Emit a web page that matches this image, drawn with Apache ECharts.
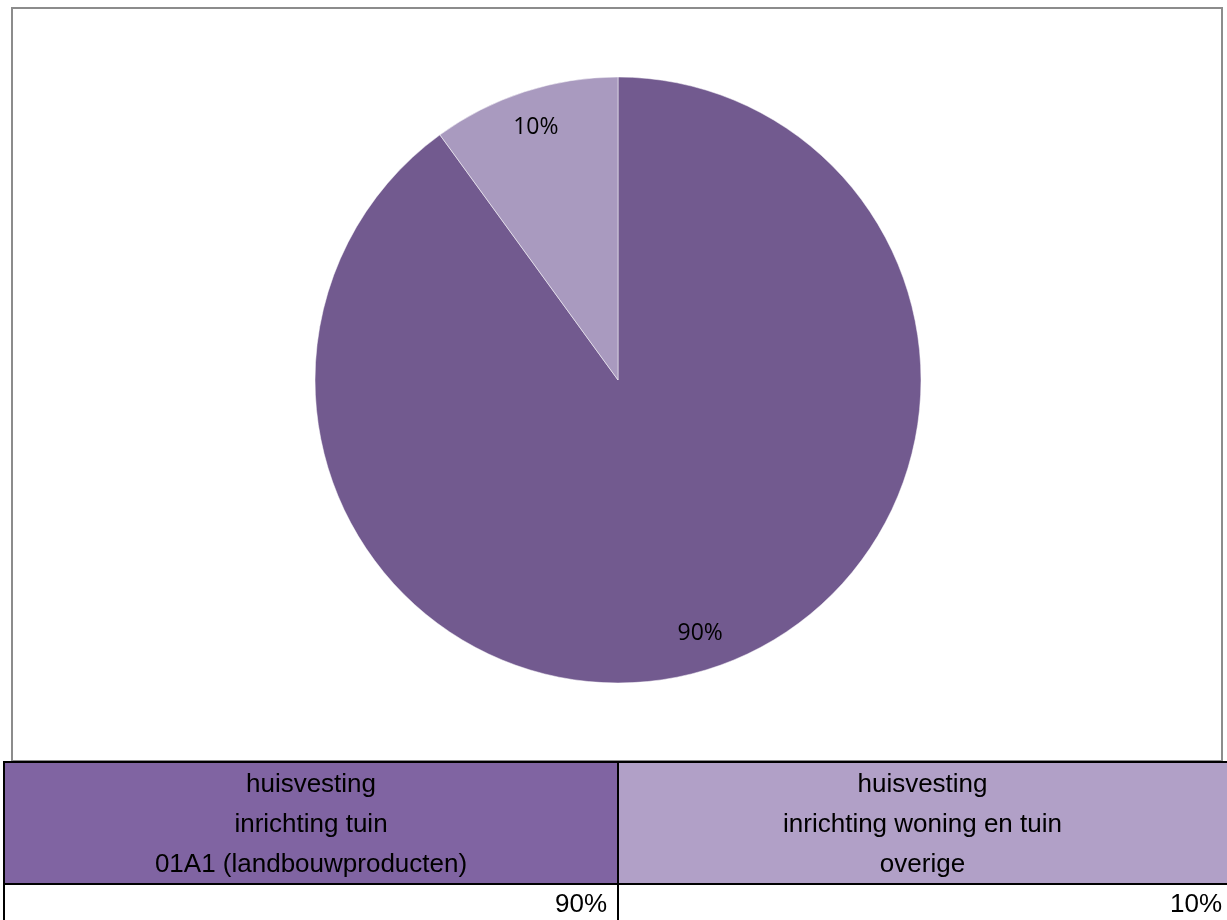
<!DOCTYPE html>
<html><head><meta charset="utf-8">
<script src="https://cdn.jsdelivr.net/npm/echarts@6/dist/echarts.min.js"></script>
<style>html,body{margin:0;padding:0;background:#fff}#c{width:1227px;height:920px}</style>
</head><body><div id="c"></div>
<script>
const categories = ['huisvesting\ninrichting tuin\n01A1 (landbouwproducten)', 'huisvesting\ninrichting woning en tuin\noverige'];
const values = [90, 10];
const valueLabels = ['90%', '10%'];
const pieColors = ['#725a8f', '#a99abf'];
const tableColors = ['#8064a2', '#b1a0c7'];

const chart = echarts.init(document.getElementById('c'), null, {renderer: 'canvas'});
const data = categories.map((c, i) => ({name: c, value: values[i], itemStyle: {color: pieColors[i]}}));

const cols = [[4, 618], [618, 1240]];
const g = [];
g.push({type: 'rect', shape: {x: 12, y: 8, width: 1210, height: 753}, style: {fill: 'none', stroke: '#8c8c8c', lineWidth: 2}, z: 0});
cols.forEach((c, i) => {
  g.push({type: 'rect', shape: {x: c[0], y: 762, width: c[1] - c[0], height: 122}, style: {fill: tableColors[i], stroke: '#000', lineWidth: 2}, z: 1});
  g.push({type: 'rect', shape: {x: c[0], y: 884, width: c[1] - c[0], height: 40}, style: {fill: '#fff', stroke: '#000', lineWidth: 2}, z: 1});
  const cx = i === 0 ? (c[0] + c[1]) / 2 : (618 + 1227) / 2;
  g.push({type: 'text', x: cx, y: 825, style: {text: categories[i], fill: '#000', font: '26px "Liberation Sans", Arial, sans-serif', align: 'center', verticalAlign: 'middle', lineHeight: 40}, z: 2});
  const rx = i === 0 ? 607 : 1222;
  g.push({type: 'text', x: rx, y: 905, style: {text: valueLabels[i], fill: '#000', font: '26px "Liberation Sans", Arial, sans-serif', align: 'right', verticalAlign: 'middle'}, z: 2});
});

chart.setOption({
  animation: false,
  graphic: g,
  series: [
    {
      type: 'pie', center: [618, 380], radius: [0, 303], startAngle: 90, clockwise: true,
      data: data, label: {show: false}, labelLine: {show: false}, silent: true,
      itemStyle: {borderColor: '#fff', borderWidth: 0.5}
    },
    {
      type: 'pie', center: [618, 380], radius: [223, 303], startAngle: 90, clockwise: true,
      data: data.map(d => ({name: d.name, value: d.value})), silent: true,
      itemStyle: {color: 'rgba(0,0,0,0)'},
      label: {show: true, position: 'inside', formatter: '{d}%', color: '#000', fontSize: 23, fontFamily: '"Open Sans", sans-serif'},
      labelLine: {show: false}
    }
  ]
});
</script></body></html>
